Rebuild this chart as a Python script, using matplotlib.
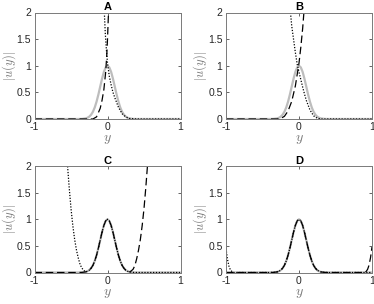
import matplotlib
matplotlib.use('Agg')
import matplotlib.pyplot as plt
import numpy as np

plt.rcParams['font.family'] = ['Liberation Sans', 'DejaVu Sans']
plt.rcParams['mathtext.fontset'] = 'cm'

# exact profile (grey), symmetric about y = 0
GAUSS_Y = [-1.0, -0.4, -0.35, -0.3, -0.275, -0.25, -0.225, -0.2, -0.175, -0.15, -0.125,
           -0.1, -0.075, -0.05, -0.025, 0.0, 0.025, 0.05, 0.075, 0.1, 0.125, 0.15,
           0.175, 0.2, 0.225, 0.25, 0.275, 0.3, 0.35, 0.4, 1.0]
GAUSS_U = [0.0, 0.0, 0.002, 0.011, 0.023, 0.044, 0.08, 0.135, 0.216, 0.325, 0.458,
           0.607, 0.755, 0.883, 0.969, 1.0, 0.969, 0.883, 0.755, 0.607, 0.458, 0.325,
           0.216, 0.135, 0.08, 0.044, 0.023, 0.011, 0.002, 0.0, 0.0]

# panel A
A_DASH_Y = [-1.0, -0.2, -0.15, -0.1, -0.075, -0.05, -0.025, -0.01, 0.0, 0.015]
A_DASH_U = [0.0, 0.0, 0.04, 0.2, 0.35, 0.55, 0.88, 1.2, 1.5, 2.05]
A_DOT_Y = [-0.045, -0.03, -0.015, 0.0, 0.025, 0.05, 0.075, 0.1, 0.15, 0.2, 0.25, 0.3, 0.4, 1.0]
A_DOT_U = [2.05, 1.6, 1.3, 1.05, 0.8, 0.64, 0.5, 0.4, 0.22, 0.1, 0.04, 0.01, 0.0, 0.0]

# panel B
B_DASH_Y = [-1.0, -0.3, -0.25, -0.2, -0.15, -0.1, -0.05, 0.0, 0.025, 0.05, 0.07]
B_DASH_U = [0.0, 0.0, 0.01, 0.05, 0.15, 0.33, 0.62, 1.05, 1.35, 1.7, 2.05]
B_DOT_Y = [-0.12, -0.1, -0.075, -0.05, -0.025, 0.0, 0.025, 0.05, 0.075, 0.1, 0.15, 0.2, 0.25, 0.3, 1.0]
B_DOT_U = [2.05, 1.75, 1.5, 1.25, 1.03, 0.88, 0.74, 0.6, 0.47, 0.35, 0.17, 0.06, 0.015, 0.0, 0.0]

# panel C: blow-up parts, the rest follows the grey profile
C_DASH_Y = [0.325, 0.35, 0.375, 0.4, 0.425, 0.45, 0.475, 0.5, 0.525, 0.55]
C_DASH_U = [0.03, 0.06, 0.13, 0.26, 0.42, 0.62, 0.88, 1.2, 1.6, 2.05]
C_DOT_Y = [-0.55, -0.525, -0.5, -0.475, -0.45, -0.425, -0.4, -0.375, -0.35, -0.325]
C_DOT_U = [2.05, 1.6, 1.2, 0.88, 0.62, 0.42, 0.27, 0.15, 0.08, 0.04]

# panel D
D_DASH_Y = [0.9, 0.92, 0.94, 0.96, 0.98, 1.0]
D_DASH_U = [0.0, 0.02, 0.06, 0.14, 0.28, 0.48]
D_DOT_Y = [-1.0, -0.98, -0.96, -0.94, -0.92, -0.9]
D_DOT_U = [0.45, 0.25, 0.12, 0.05, 0.02, 0.0]

gy = np.array(GAUSS_Y)
gu = np.array(GAUSS_U)

def left_part(lim):
    m = gy <= lim
    return list(gy[m]), list(gu[m])

def right_part(lim):
    m = gy >= lim
    return list(gy[m]), list(gu[m])

ly, lu = left_part(0.3)
ry, ru = right_part(-0.3)
c_dash = (ly + C_DASH_Y, lu + C_DASH_U)
c_dot = (C_DOT_Y + ry, C_DOT_U + ru)
ly, lu = left_part(0.89)
ry, ru = right_part(-0.89)
d_dash = (ly + D_DASH_Y, lu + D_DASH_U)
d_dot = (D_DOT_Y + ry, D_DOT_U + ru)

panels = [
    ('A', (A_DASH_Y, A_DASH_U), (A_DOT_Y, A_DOT_U)),
    ('B', (B_DASH_Y, B_DASH_U), (B_DOT_Y, B_DOT_U)),
    ('C', c_dash, c_dot),
    ('D', d_dash, d_dot),
]

W, H = 374, 304
fig = plt.figure(figsize=(W / 100, H / 100), dpi=100)
boxes = [(34.5, 12.5), (226, 12.5), (34.5, 166), (226, 166)]

axc = '#262626'
for (title, dash, dot), (x0, y0) in zip(panels, boxes):
    ax = fig.add_axes([x0 / W, 1 - (y0 + 106.5) / H, 146 / W, 106.5 / H])
    ax.plot(GAUSS_Y, GAUSS_U, color='#bdbdbd', linewidth=1.6, solid_capstyle='butt')
    ax.plot(dash[0], dash[1], color='black', linewidth=0.9, dashes=(6, 3))
    ax.plot(dot[0], dot[1], color='black', linewidth=0.9, linestyle=(0, (1, 1.3)))
    ax.set_xlim(-1, 1)
    ax.set_ylim(0, 2)
    ax.set_xticks([-1, 0, 1])
    ax.set_xticklabels(['-1', '0', '1'])
    ax.set_yticks([0, 0.5, 1, 1.5, 2])
    ax.set_yticklabels(['0', '0.5', '1', '1.5', '2'])
    ax.tick_params(direction='in', length=2.5, width=0.5, labelsize=7.5, colors=axc,
                   top=True, right=True, pad=2.5)
    for s in ax.spines.values():
        s.set_color('#7a7a7a')
        s.set_linewidth(0.7)
    ax.set_title(title, fontsize=8, fontweight='bold', pad=1.5)
    ax.set_xlabel(r'$y$', fontsize=10, color='#7a7a7a', labelpad=0)
    ax.set_ylabel(r'$|u(y)|$', fontsize=9, color='#7a7a7a', va='center')
    ax.yaxis.set_label_coords(-0.175, 0.5)

fig.savefig('out.png', dpi=100)
